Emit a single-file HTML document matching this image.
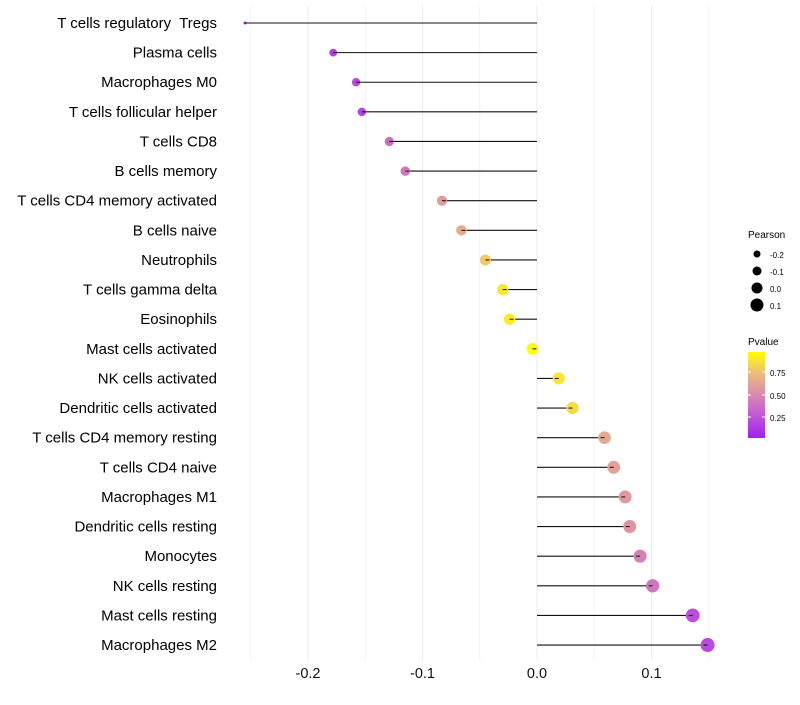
<!DOCTYPE html>
<html><head><meta charset="utf-8"><style>
body{margin:0;background:#fff;font-family:"Liberation Sans",sans-serif}
svg text{font-family:"Liberation Sans",sans-serif;white-space:pre}
</style></head><body>
<svg id="chart" width="800" height="700" xmlns="http://www.w3.org/2000/svg">
<defs><linearGradient id="pg" x1="0" y1="1" x2="0" y2="0">
<stop offset="0" stop-color="#A020F0"/><stop offset="0.25" stop-color="#C055D8"/><stop offset="0.5" stop-color="#D98AAF"/><stop offset="0.75" stop-color="#EDBB7E"/><stop offset="1" stop-color="#FFFF00"/></linearGradient></defs>
<g id="grid"></g><g id="marks"></g><g id="labels"></g>
<g>
<text x="748" y="238" font-size="10">Pearson</text>
<circle cx="757" cy="254" r="3.5"/><text x="770" y="258" font-size="8">-0.2</text>
<circle cx="757" cy="271" r="4.5"/><text x="770" y="275" font-size="8">-0.1</text>
<circle cx="757" cy="288" r="5.5"/><text x="770" y="292" font-size="8">0.0</text>
<circle cx="757" cy="305" r="6.5"/><text x="770" y="309" font-size="8">0.1</text>
</g>
<g>
<text x="748" y="345" font-size="10">Pvalue</text>
<rect x="748" y="352" width="17" height="86" fill="url(#pg)"/>
<line x1="748" x2="751" y1="372" y2="372" stroke="#fff"/><line x1="762" x2="765" y1="372" y2="372" stroke="#fff"/>
<line x1="748" x2="751" y1="395" y2="395" stroke="#fff"/><line x1="762" x2="765" y1="395" y2="395" stroke="#fff"/>
<line x1="748" x2="751" y1="417" y2="417" stroke="#fff"/><line x1="762" x2="765" y1="417" y2="417" stroke="#fff"/>
<text x="770" y="376" font-size="8">0.75</text><text x="770" y="399" font-size="8">0.50</text><text x="770" y="421" font-size="8">0.25</text>
</g>
</svg>
<script>
const categories=["T cells regulatory  Tregs","Plasma cells","Macrophages M0","T cells follicular helper","T cells CD8","B cells memory","T cells CD4 memory activated","B cells naive","Neutrophils","T cells gamma delta","Eosinophils","Mast cells activated","NK cells activated","Dendritic cells activated","T cells CD4 memory resting","T cells CD4 naive","Macrophages M1","Dendritic cells resting","Monocytes","NK cells resting","Mast cells resting","Macrophages M2"];
const pearson=[-0.255,-0.178,-0.158,-0.153,-0.129,-0.115,-0.083,-0.066,-0.045,-0.030,-0.024,-0.004,0.019,0.031,0.059,0.067,0.077,0.081,0.090,0.101,0.136,0.149];
const pvalue=[0.01,0.15,0.2,0.18,0.35,0.4,0.58,0.65,0.78,0.88,0.9,0.97,0.88,0.84,0.64,0.6,0.57,0.54,0.45,0.4,0.22,0.2];
const xTicks=[-0.2,-0.1,0.0,0.1];
const xTickLabels=["-0.2","-0.1","0.0","0.1"];
const minorTicks=[-0.25,-0.15,-0.05,0.05,0.15];
const NS="http://www.w3.org/2000/svg";
const x=v=>537+v*1145;
const y=i=>23+i*29.62;
const stops=[[0,[160,32,240]],[0.25,[192,85,216]],[0.5,[217,138,175]],[0.75,[237,187,126]],[1,[255,255,0]]];
function col(p){let t=(p-0.01)/(0.97-0.01);t=Math.max(0,Math.min(1,t));
for(let k=1;k<stops.length;k++){if(t<=stops[k][0]){const a=stops[k-1],b=stops[k],u=(t-a[0])/(b[0]-a[0]);
return "rgb("+a[1].map((c,j)=>Math.round(c+(b[1][j]-c)*u)).join(",")+")";}}return "rgb(255,255,0)";}
function mk(tag,attrs,parent){const e=document.createElementNS(NS,tag);for(const k in attrs)e.setAttribute(k,attrs[k]);parent.appendChild(e);return e;}
const grid=document.getElementById('grid'),marks=document.getElementById('marks'),labels=document.getElementById('labels');
minorTicks.forEach(v=>{const l=mk('line',{x1:x(v),x2:x(v),y1:5,y2:660,stroke:'#f2f2f2','stroke-width':1},grid);

});
xTicks.forEach((v,i)=>{const l=mk('line',{x1:x(v),x2:x(v),y1:5,y2:660,stroke:'#ebebeb','stroke-width':1},grid);


const t=mk('text',{x:x(v),y:678,'text-anchor':'middle','font-size':14.5,fill:'#111'},labels);t.textContent=xTickLabels[i];

});
const vmin=Math.min(...pearson),vmax=Math.max(...pearson);
categories.forEach((c,i)=>{const v=pearson[i];
const t=mk('text',{x:217,y:y(i)+5,'text-anchor':'end','font-size':15,fill:'#000'},labels);t.textContent=c;


const l=mk('line',{x1:x(0),x2:x(v),y1:y(i),y2:y(i),stroke:'#111','stroke-width':1.1},marks);


const d=3+11*Math.sqrt((v-vmin)/(vmax-vmin));
const p=mk('circle',{cx:x(v),cy:y(i),r:d/2,fill:col(pvalue[i])},marks);


const s=mk('line',{x1:x(v),x2:x(v)+(v<0?4:-4),y1:y(i),y2:y(i),stroke:'#111','stroke-width':1},marks);

});
</script>
</body></html>
